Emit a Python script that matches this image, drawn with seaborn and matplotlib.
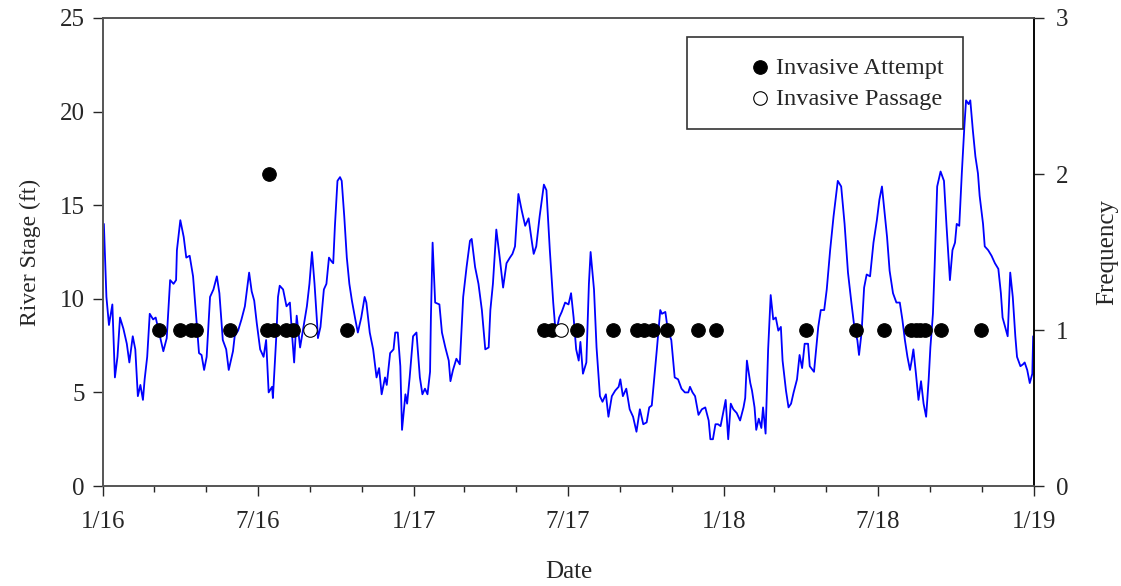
import pandas as pd
import numpy as np
import seaborn as sns
import matplotlib.pyplot as plt
import matplotlib.dates as mdates
from matplotlib.ticker import FuncFormatter

# River stage readings (days since 1/1/2016, stage in ft)
stage_day = [1, 4, 7, 11, 14, 17, 20, 24, 28, 31, 35, 38, 41, 44, 47, 49, 52, 55, 59, 62,
             67, 71, 75, 79, 83, 86, 87, 91, 95, 98, 102, 106, 110, 113, 116, 119, 122, 126, 130, 134,
             137, 141, 145, 148, 153, 155, 159, 163, 167, 172, 175, 178, 181, 185, 189, 192, 195, 199, 200, 204,
             206, 208, 212, 216, 220, 223, 225, 228, 232, 236, 240, 243, 246, 249, 252, 253, 256, 260, 263, 266,
             269, 271, 273, 276, 279, 281, 284, 287, 290, 293, 297, 300, 304, 308, 310, 314, 318, 322, 325, 328,
             332, 334, 338, 342, 344, 347, 350, 352, 356, 358, 361, 365, 369, 373, 376, 379, 382, 385, 386, 388,
             391, 396, 399, 403, 407, 409, 412, 416, 420, 424, 428, 432, 434, 438, 442, 446, 450, 454, 456, 459,
             463, 467, 471, 475, 479, 482, 485, 489, 493, 497, 501, 505, 507, 510, 514, 519, 522, 526, 530, 533,
             537, 540, 544, 548, 551, 554, 557, 560, 562, 565, 569, 572, 574, 578, 581, 585, 588, 592, 595, 599,
             603, 607, 609, 612, 616, 620, 624, 628, 632, 636, 640, 643, 646, 649, 652, 656, 658, 662, 665, 669,
             673, 677, 681, 685, 689, 691, 694, 697, 701, 705, 709, 713, 715, 718, 721, 724, 727, 730, 733, 736,
             739, 742, 746, 750, 754, 756, 758, 762, 764, 767, 769, 772, 775, 777, 780, 783, 786, 789, 792, 795,
             798, 800, 804, 807, 810, 813, 817, 820, 823, 826, 830, 832, 837, 842, 845, 849, 852, 856, 860, 865,
             869, 873, 877, 881, 885, 888, 890, 893, 896, 899, 903, 907, 911, 914, 917, 919, 923, 926, 930, 934,
             938, 941, 944, 947, 950, 952, 954, 957, 960, 963, 966, 969, 972, 974, 977, 979, 982, 986, 990, 993,
             997, 1000, 1003, 1005, 1008, 1011, 1014, 1016, 1019, 1021, 1024, 1027, 1030, 1032, 1036, 1038, 1042, 1046, 1050, 1054,
             1057, 1059, 1062, 1065, 1068, 1071, 1074, 1076, 1080, 1083, 1085, 1088, 1091, 1094, 1095]
stage_ft = [14.0, 10.1, 8.6, 9.7, 5.8, 6.9, 9.0, 8.4, 7.6, 6.6, 8.0, 7.3, 4.8, 5.4, 4.6, 5.7, 6.9, 9.2, 8.9, 9.0,
            8.0, 7.2, 7.9, 11.0, 10.8, 11.0, 12.6, 14.2, 13.3, 12.2, 12.3, 11.2, 8.9, 7.1, 7.0, 6.2, 6.9, 10.1, 10.5, 11.2,
            10.3, 7.8, 7.3, 6.2, 7.2, 8.0, 8.3, 8.9, 9.6, 11.4, 10.4, 9.9, 8.7, 7.3, 6.9, 7.8, 5.0, 5.3, 4.7, 8.0,
            10.1, 10.7, 10.5, 9.6, 9.8, 7.8, 6.6, 9.1, 7.4, 8.5, 9.6, 10.8, 12.5, 10.8, 8.7, 7.9, 8.5, 10.5, 10.8, 12.2,
            12.0, 11.9, 13.9, 16.3, 16.5, 16.3, 14.4, 12.2, 10.8, 9.9, 8.9, 8.2, 9.0, 10.1, 9.8, 8.2, 7.3, 5.8, 6.3, 4.9,
            5.8, 5.4, 7.1, 7.3, 8.2, 8.2, 6.4, 3.0, 4.9, 4.4, 5.8, 8.0, 8.2, 5.8, 4.9, 5.2, 4.9, 6.1, 9.0, 13.0,
            9.8, 9.7, 8.2, 7.4, 6.7, 5.6, 6.2, 6.8, 6.5, 10.1, 11.7, 13.1, 13.2, 11.7, 10.8, 9.4, 7.3, 7.4, 9.4, 10.8,
            13.7, 12.2, 10.6, 11.9, 12.2, 12.4, 12.8, 15.6, 14.7, 13.9, 14.3, 13.0, 12.4, 12.8, 14.4, 16.1, 15.8, 12.6, 9.8, 8.1,
            9.0, 9.3, 9.8, 9.7, 10.3, 9.0, 7.3, 6.7, 7.7, 6.0, 6.6, 10.8, 12.5, 10.5, 7.4, 4.8, 4.5, 4.9, 3.7, 4.8,
            5.1, 5.3, 5.7, 4.8, 5.2, 4.1, 3.7, 2.9, 4.1, 3.3, 3.4, 4.2, 4.3, 5.8, 7.3, 9.4, 9.2, 9.3, 8.3, 7.8,
            5.8, 5.7, 5.2, 5.0, 5.0, 5.3, 5.0, 4.8, 3.8, 4.1, 4.2, 3.5, 2.5, 2.5, 3.3, 3.3, 3.2, 3.9, 4.6, 2.5,
            4.4, 4.1, 3.9, 3.5, 4.2, 4.7, 6.7, 5.5, 5.1, 4.2, 3.0, 3.6, 3.1, 4.2, 2.8, 7.3, 10.2, 8.9, 9.0, 8.3,
            8.5, 6.7, 5.1, 4.2, 4.4, 5.0, 5.7, 7.0, 6.3, 7.6, 7.6, 6.4, 6.1, 8.5, 9.4, 9.4, 10.5, 12.6, 14.4, 16.3,
            16.0, 14.0, 11.4, 9.8, 8.3, 7.8, 7.0, 8.2, 10.6, 11.3, 11.2, 13.0, 14.2, 15.3, 16.0, 15.1, 13.3, 11.5, 10.3, 9.8,
            9.8, 8.9, 7.8, 6.9, 6.2, 6.7, 7.3, 6.0, 4.6, 5.6, 4.4, 3.7, 5.7, 7.4, 9.2, 11.7, 16.0, 16.8, 16.3, 13.9,
            11.0, 12.6, 13.0, 14.0, 13.9, 16.7, 19.2, 20.6, 20.4, 20.6, 19.0, 17.6, 16.7, 15.5, 14.0, 12.8, 12.6, 12.3, 11.9, 11.6,
            10.3, 9.0, 8.5, 8.0, 11.4, 10.1, 8.0, 6.9, 6.4, 6.5, 6.6, 6.2, 5.5, 6.0, 8.0]

# Invasive events
attempt_dates = ["2016-03-07", "2016-04-01", "2016-04-13", "2016-04-19", "2016-05-29",
                 "2016-07-12", "2016-07-14", "2016-07-20", "2016-08-03", "2016-08-12", "2016-10-14",
                 "2017-06-03", "2017-06-12", "2017-07-12", "2017-08-23", "2017-09-21", "2017-09-29",
                 "2017-10-09", "2017-10-26", "2017-12-02", "2017-12-23",
                 "2018-04-08", "2018-06-06", "2018-07-08", "2018-08-09", "2018-08-15", "2018-08-20",
                 "2018-08-26", "2018-09-14", "2018-10-31"]
attempt_freq = [1, 1, 1, 1, 1, 1, 2, 1, 1, 1, 1,
                1, 1, 1, 1, 1, 1, 1, 1, 1, 1,
                1, 1, 1, 1, 1, 1, 1, 1, 1]
passage_dates = ["2016-09-01", "2017-06-23"]
passage_freq = [1, 1]

stage = pd.DataFrame({"date": pd.Timestamp("2016-01-01") + pd.to_timedelta(stage_day, unit="D"),
                      "stage": stage_ft})
attempts = pd.DataFrame({"date": pd.to_datetime(attempt_dates), "freq": attempt_freq})
passages = pd.DataFrame({"date": pd.to_datetime(passage_dates), "freq": passage_freq})

sns.set_style("ticks")
plt.rcParams["font.family"] = ["Liberation Serif", "DejaVu Serif"]

fig = plt.figure(figsize=(11.21, 5.86), dpi=100)
ax = fig.add_axes([0.0919, 0.1706, 0.8305, 0.7987])
ax2 = ax.twinx()

sns.lineplot(data=stage, x="date", y="stage", ax=ax, color="#0000FF", linewidth=1.3)

sns.scatterplot(data=attempts, x="date", y="freq", ax=ax2, color="black", edgecolor="black",
                s=95, linewidth=0.8, label="Invasive Attempt", zorder=3)
sns.scatterplot(data=passages, x="date", y="freq", ax=ax2, color="white", edgecolor="black",
                s=95, linewidth=0.8, label="Invasive Passage", zorder=3)

ax.set_xlim(pd.Timestamp("2016-01-01"), pd.Timestamp("2019-01-01"))
ax.set_ylim(0, 25)
ax2.set_ylim(0, 3)
ax.set_yticks([0, 5, 10, 15, 20, 25])
ax2.set_yticks([0, 1, 2, 3])

ax.xaxis.set_major_locator(mdates.MonthLocator(bymonth=[1, 7]))
ax.xaxis.set_minor_locator(mdates.MonthLocator(bymonth=[3, 5, 9, 11]))
ax.xaxis.set_major_formatter(FuncFormatter(lambda v, p: f"{mdates.num2date(v).month}/{mdates.num2date(v).strftime('%y')}"))

ax.set_xlabel("Date", fontsize=18, labelpad=20)
ax.set_ylabel("River Stage (ft)", fontsize=17, labelpad=14)
ax2.set_ylabel("Frequency", fontsize=18, labelpad=20)

for a in (ax, ax2):
    a.tick_params(axis="both", which="major", labelsize=18, direction="out", length=7, width=1, pad=6)
    a.tick_params(axis="both", which="minor", direction="out", length=4, width=1)
ax.tick_params(axis="x", which="major", pad=11)
ax2.tick_params(axis="y", which="major", pad=9)

for side in ["left", "bottom", "top"]:
    ax.spines[side].set_color("#555555")
    ax2.spines[side].set_color("#555555")
ax2.spines["right"].set_color("black")
for a in (ax, ax2):
    for s in a.spines.values():
        s.set_visible(True)
        s.set_linewidth(1.2)

leg = ax2.legend(loc="upper right", bbox_to_anchor=(0.9237, 0.9594), fontsize=17.6,
                 frameon=True, fancybox=False, edgecolor="black", borderpad=0.8,
                 handlelength=4.38, handletextpad=-1.56, labelspacing=0.37, borderaxespad=0)
leg.get_frame().set_linewidth(1.2)

fig.savefig("out.png", dpi=100)
